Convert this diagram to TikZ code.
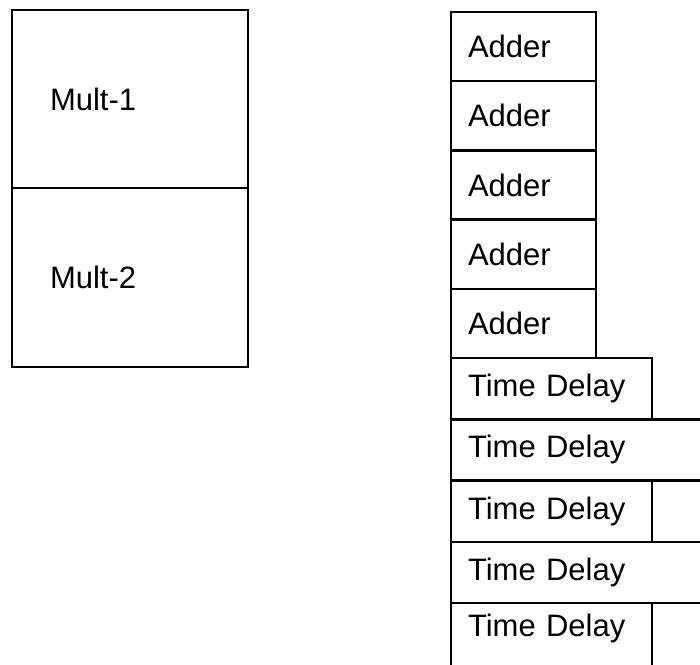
\documentclass[tikz,border=0pt]{standalone}
\usepackage{fontspec}
\setmainfont{Liberation Sans}
\usetikzlibrary{positioning}

\tikzset{
    unit/.style={draw,line width=2.5pt,outer sep=0pt,align=left,inner xsep=17pt,
        font=\fontsize{31}{36}\selectfont},
    mult/.style={unit,inner xsep=38pt,text width=160pt},
    adder/.style={unit,text width=111pt,minimum height=69.2pt},
    delay/.style={unit,text width=167pt,minimum height=61.25pt},
    longdelay/.style={delay,text width=300pt}
}

\begin{document}
\begin{tikzpicture}[x=1pt,y=-1pt]
    \useasboundingbox (0,0) rectangle (700,664);
    \clip (0,0) rectangle (700,664);

    % Multipliers
    \node[mult,minimum height=178pt,anchor=north west] (mult1) at (12,10) {Mult-1};
    \node[mult,minimum height=179pt,below=0pt of mult1] (mult2) {Mult-2};

    % Adder stack
    \node[adder,anchor=north west] (add1) at (451,12) {Adder};
    \node[adder,below=0pt of add1] (add2) {Adder};
    \node[adder,below=0pt of add2] (add3) {Adder};
    \node[adder,below=0pt of add3] (add4) {Adder};
    \node[adder,below=0pt of add4] (add5) {Adder};

    % Time delays (the last one runs off the bottom edge)
    \node[delay,anchor=north west] (td1) at (add5.south west) {Time Delay};
    \node[longdelay,anchor=north west] (td2) at (td1.south west) {Time Delay};
    \node[delay,anchor=north west] (td3) at (td2.south west) {Time Delay};
    \node[longdelay,anchor=north west] (td4) at (td3.south west) {Time Delay};
    \node[delay,anchor=north west,text height=30pt,text depth=40pt] (td5)
        at (td4.south west) {Time Delay};
\end{tikzpicture}
\end{document}
